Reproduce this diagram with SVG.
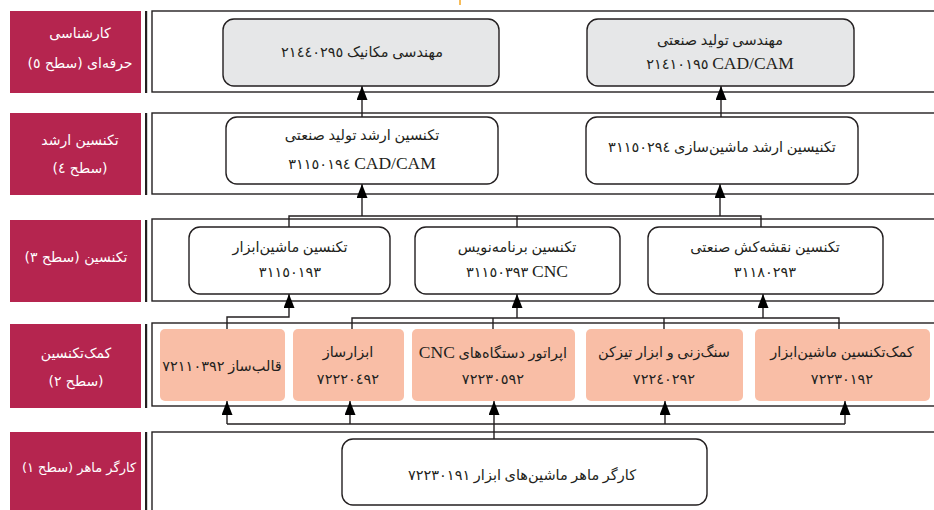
<svg xmlns="http://www.w3.org/2000/svg" width="934" height="510" viewBox="0 0 934 510">
<style>
.lbl{fill:#B5254F}
.bar{fill:#231F20}
.row{fill:#fff;stroke:#231F20;stroke-width:1.4}
.gray{fill:#E6E7E8;stroke:#231F20;stroke-width:1.4}
.white{fill:#fff;stroke:#231F20;stroke-width:1.4}
.salmon{fill:#F9BEA6}
.lt{font-family:"DejaVu Sans",sans-serif;font-size:14px;fill:#fff;text-anchor:middle;direction:rtl}
.t{font-family:"Liberation Serif","DejaVu Sans",sans-serif;font-size:14.5px;fill:#231F20;text-anchor:middle;direction:rtl}
.la{font-size:17.5px}
.c{fill:none;stroke:#231F20;stroke-width:1.4}
</style>
<defs>
<marker id="ah" markerUnits="userSpaceOnUse" markerWidth="14" markerHeight="11" refX="14" refY="5.5" orient="auto">
<path d="M0,0 L14,5.5 L0,11 z" fill="#000"/>
</marker>
</defs>
<line x1="460" y1="0" x2="460" y2="5" stroke="#F5A623" stroke-width="1.5"/>
<g id="levels">
<rect class="lbl" x="10" y="11" width="131" height="82"/>
<rect class="lbl" x="10" y="113" width="131" height="82"/>
<rect class="lbl" x="10" y="220" width="131" height="82"/>
<rect class="lbl" x="10" y="324" width="131" height="84"/>
<rect class="lbl" x="10" y="432" width="131" height="80"/>
<rect class="bar" x="145" y="11" width="2.2" height="82"/>
<rect class="bar" x="145" y="113" width="2.2" height="82"/>
<rect class="bar" x="145" y="220" width="2.2" height="82"/>
<rect class="bar" x="145" y="324" width="2.2" height="84"/>
<rect class="bar" x="145" y="432" width="2.2" height="80"/>
<rect class="row" x="152" y="11" width="800" height="81"/>
<rect class="row" x="152" y="113" width="800" height="81"/>
<rect class="row" x="152" y="219" width="800" height="82"/>
<rect class="row" x="152" y="323" width="800" height="83"/>
<rect class="row" x="152" y="432" width="800" height="90"/>
<text class="lt" x="80" y="38">کارشناسی</text>
<text class="lt" x="80" y="68">حرفه‌ای (سطح ٥)</text>
<text class="lt" x="80" y="145">تکنسین ارشد</text>
<text class="lt" x="80" y="173">(سطح ٤)</text>
<text class="lt" x="76" y="262">تکنسین (سطح ٣)</text>
<text class="lt" x="76" y="358">کمک‌تکنسین</text>
<text class="lt" x="76" y="386">(سطح ٢)</text>
<text class="lt" x="79" y="472" style="font-size:13px">کارگر ماهر (سطح ١)</text>
</g>
<g id="connectors">
<line class="c" x1="362" y1="117" x2="362" y2="86" marker-end="url(#ah)"/>
<line class="c" x1="721" y1="117" x2="721" y2="86" marker-end="url(#ah)"/>
<polyline class="c" points="289,227 289,216 761,216 761,227"/>
<line class="c" x1="517" y1="216" x2="517" y2="227"/>
<line class="c" x1="362" y1="216" x2="362" y2="184" marker-end="url(#ah)"/>
<line class="c" x1="720" y1="216" x2="720" y2="184" marker-end="url(#ah)"/>
<polyline class="c" points="227,329 227,317 289,317 289,294" marker-end="url(#ah)"/>
<polyline class="c" points="352,329 352,318 839,318 839,329"/>
<line class="c" x1="493" y1="318" x2="493" y2="329"/>
<line class="c" x1="664" y1="318" x2="664" y2="329"/>
<line class="c" x1="517" y1="318" x2="517" y2="294" marker-end="url(#ah)"/>
<line class="c" x1="763" y1="318" x2="763" y2="294" marker-end="url(#ah)"/>
<polyline class="c" points="227,424 845,424"/>
<line class="c" x1="227" y1="424" x2="227" y2="401" marker-end="url(#ah)"/>
<line class="c" x1="350" y1="424" x2="350" y2="401" marker-end="url(#ah)"/>
<line class="c" x1="494" y1="439" x2="494" y2="401" marker-end="url(#ah)"/>
<line class="c" x1="665" y1="424" x2="665" y2="401" marker-end="url(#ah)"/>
<line class="c" x1="845" y1="424" x2="845" y2="401" marker-end="url(#ah)"/>
</g>
<g id="n5a"><rect class="gray" x="223" y="19" width="276" height="67" rx="11"/>
<text class="t" x="362" y="57">مهندسی مکانیک ٢١٤٤٠٢٩٥</text></g>
<g id="n5b"><rect class="gray" x="587" y="19" width="267" height="67" rx="11"/>
<text class="t" x="720" y="45">مهندسی تولید صنعتی</text>
<text class="t" x="720" y="69"><tspan class="la">CAD/CAM</tspan> ٢١٤١٠١٩٥</text></g>
<g id="n4a"><rect class="white" x="226" y="117" width="272" height="67" rx="11"/>
<text class="t" x="362" y="140">تکنسین ارشد تولید صنعتی</text>
<text class="t" x="362" y="169"><tspan class="la">CAD/CAM</tspan> ٣١١٥٠١٩٤</text></g>
<g id="n4b"><rect class="white" x="586" y="117" width="272" height="67" rx="11"/>
<text class="t" x="722" y="152">تکنیسین ارشد ماشین‌سازی ٣١١٥٠٢٩٤</text></g>
<g id="n3a"><rect class="white" x="189" y="227" width="201" height="67" rx="11"/>
<text class="t" x="290" y="252">تکنسین ماشین‌ابزار</text>
<text class="t" x="290" y="277">٣١١٥٠١٩٣</text></g>
<g id="n3b"><rect class="white" x="415" y="227" width="205" height="67" rx="11"/>
<text class="t" x="517" y="252">تکنسین برنامه‌نویس</text>
<text class="t" x="517" y="277"><tspan class="la">CNC</tspan> ٣١١٥٠٣٩٣</text></g>
<g id="n3c"><rect class="white" x="648" y="227" width="235" height="67" rx="11"/>
<text class="t" x="765" y="252">تکنسین نقشه‌کش صنعتی</text>
<text class="t" x="765" y="277">٣١١٨٠٢٩٣</text></g>
<g id="n2a"><rect class="salmon" x="160" y="329" width="125" height="72" rx="5"/>
<text class="t" x="222" y="371">قالب‌ساز ٧٢١١٠٣٩٢</text></g>
<g id="n2b"><rect class="salmon" x="293" y="329" width="111" height="72" rx="5"/>
<text class="t" x="348" y="357">ابزارساز</text>
<text class="t" x="348" y="384">٧٢٢٢٠٤٩٢</text></g>
<g id="n2c"><rect class="salmon" x="412" y="329" width="163" height="72" rx="5"/>
<text class="t" x="493" y="358">اپراتور دستگاه‌های <tspan class="la">CNC</tspan></text>
<text class="t" x="493" y="384">٧٢٢٣٠٥٩٢</text></g>
<g id="n2d"><rect class="salmon" x="586" y="329" width="157" height="72" rx="5"/>
<text class="t" x="664" y="357">سنگ‌زنی و ابزار تیزکن</text>
<text class="t" x="664" y="384">٧٢٢٤٠٢٩٢</text></g>
<g id="n2e"><rect class="salmon" x="755" y="329" width="175" height="72" rx="5"/>
<text class="t" x="842" y="357">کمک‌تکنسین ماشین‌ابزار</text>
<text class="t" x="842" y="384">٧٢٢٣٠١٩٢</text></g>
<g id="n1"><rect class="white" x="342" y="439" width="365" height="66" rx="11"/>
<text class="t" x="522" y="480">کارگر ماهر ماشین‌های ابزار ٧٢٢٣٠١٩١</text></g>
</svg>
